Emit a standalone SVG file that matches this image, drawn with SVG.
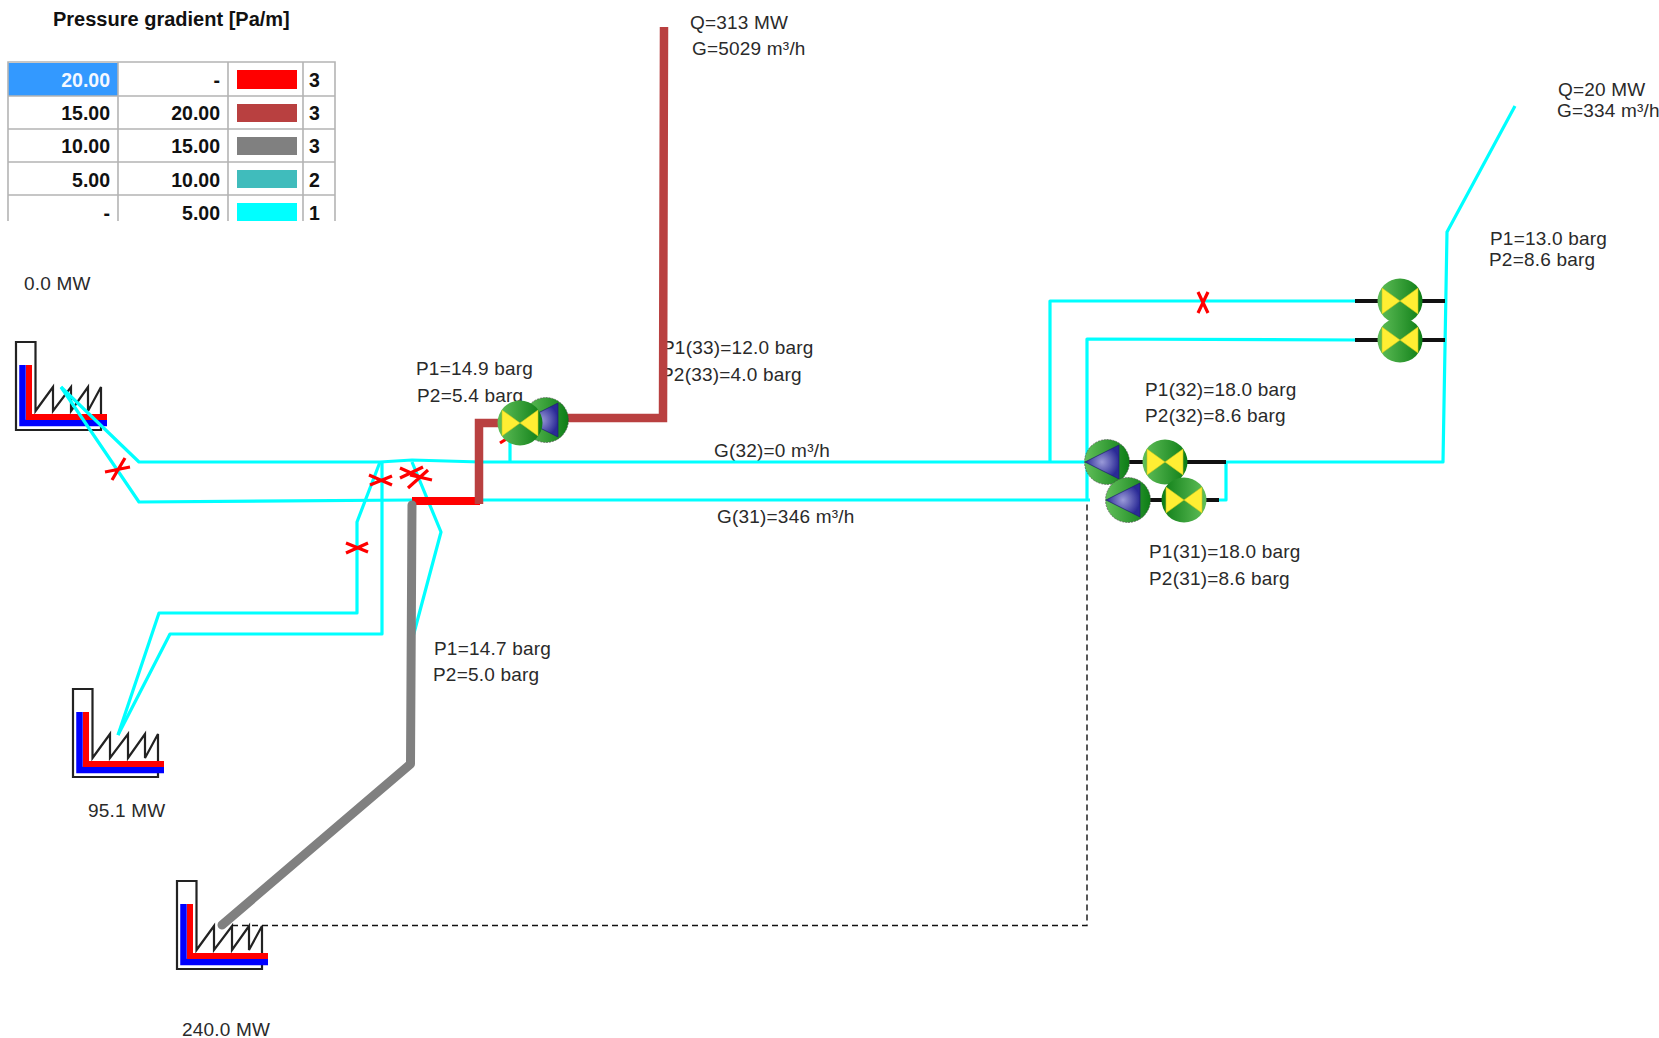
<svg xmlns="http://www.w3.org/2000/svg" width="1659" height="1038" viewBox="0 0 1659 1038">
<style>
text{font-family:"Liberation Sans",Arial,sans-serif;font-size:19px;letter-spacing:.2px;fill:#2a2a2a}
.b{font-weight:bold;fill:#111;letter-spacing:0;font-size:19.5px}
.t{font-size:20px}
.r{text-anchor:end}
.grid{stroke:#b4b4b4;stroke-width:1.6;fill:none}
.c{fill:none;stroke:#00ffff;stroke-width:3.2;stroke-linejoin:round}
.k{fill:none;stroke:#111;stroke-width:4}
.x{fill:none;stroke:#ff0000;stroke-width:3.2}
.brown{fill:none;stroke:#b94040;stroke-width:8.5}
.gray{fill:none;stroke:#808080;stroke-width:9;stroke-linecap:round;stroke-linejoin:round}
.plantline{fill:none;stroke:#222;stroke-width:2.2}
.blue{fill:none;stroke:#0000ff;stroke-width:6.5}
.red{fill:none;stroke:#ff0000;stroke-width:6}
</style>
<defs>
<linearGradient id="gv" x1="0" x2="1" y1="0" y2="0"><stop offset="0" stop-color="#62c05a"/><stop offset="1" stop-color="#0d7d16"/></linearGradient>
<radialGradient id="gb"><stop offset="0" stop-color="#9a9ad8"/><stop offset="1" stop-color="#2a2a96"/></radialGradient>
<g id="valve"><circle r="22.500" fill="url(#gv)"/><path d="M-18-13L0 0L-18 13ZM18-13L0 0L18 13Z" fill="#ffee33" stroke="#c8c820" stroke-width=".6"/></g>
<g id="pump"><circle r="22.500" fill="url(#gv)" stroke="#444" stroke-width=".6" stroke-dasharray="2 1"/><path d="M-22 0L12-17V17Z" fill="url(#gb)" stroke="#1c1c70" stroke-width=".7"/></g>
<g id="plant"><path class="plantline" d="M0 0H19.500V69L37 45V69L55 45V69L72 45V69L85 45V88H0Z"/><path class="blue" d="M6.500 23V81H91"/><path class="red" d="M13 23V75H91"/></g>
</defs>

<g id="legend">
<text class="b t" x="53" y="26">Pressure gradient [Pa/m]</text>
<rect x="8" y="63" width="110" height="33" fill="#3399ff"/>
<path class="grid" d="M8 221V62H335V221M118 62V221M228 62V221M303 62V221M8 96H335M8 129H335M8 162H335M8 195H335"/>
<rect x="237" y="70" width="60" height="19" fill="#ff0000"/>
<rect x="237" y="104" width="60" height="18" fill="#b94040"/>
<rect x="237" y="137" width="60" height="18" fill="#808080"/>
<rect x="237" y="170" width="60" height="18" fill="#40bcbc"/>
<rect x="237" y="203" width="60" height="18" fill="#00ffff"/>
<text class="b r" x="110" y="87" style="fill:#f4f8ff">20.00</text><text class="b r" x="220" y="87">-</text><text class="b" x="309" y="87">3</text>
<text class="b r" x="110" y="120">15.00</text><text class="b r" x="220" y="120">20.00</text><text class="b" x="309" y="120">3</text>
<text class="b r" x="110" y="153">10.00</text><text class="b r" x="220" y="153">15.00</text><text class="b" x="309" y="153">3</text>
<text class="b r" x="110" y="187">5.00</text><text class="b r" x="220" y="187">10.00</text><text class="b" x="309" y="187">2</text>
<text class="b r" x="110" y="220">-</text><text class="b r" x="220" y="220">5.00</text><text class="b" x="309" y="220">1</text>
</g>

<g id="labels">
<text x="690" y="29">Q=313 MW</text>
<text x="692" y="55">G=5029 m³/h</text>
<text x="1558" y="96">Q=20 MW</text>
<text x="1557" y="117">G=334 m³/h</text>
<text x="1490" y="245">P1=13.0 barg</text>
<text x="1489" y="266">P2=8.6 barg</text>
<text x="1145" y="396">P1(32)=18.0 barg</text>
<text x="1145" y="422">P2(32)=8.6 barg</text>
<text x="1149" y="558">P1(31)=18.0 barg</text>
<text x="1149" y="585">P2(31)=8.6 barg</text>
<text x="714" y="457">G(32)=0 m³/h</text>
<text x="717" y="523">G(31)=346 m³/h</text>
<text x="662" y="354">P1(33)=12.0 barg</text>
<text x="661" y="381">P2(33)=4.0 barg</text>
<text x="416" y="375">P1=14.9 barg</text>
<text x="417" y="402">P2=5.4 barg</text>
<text x="434" y="655">P1=14.7 barg</text>
<text x="433" y="681">P2=5.0 barg</text>
<text x="24" y="290">0.0 MW</text>
<text x="88" y="817">95.1 MW</text>
<text x="182" y="1036">240.0 MW</text>
</g>

<g id="plant-1"><use href="#plant" x="16" y="342"/></g>
<g id="plant-2"><use href="#plant" x="73" y="689"/></g>
<g id="plant-3"><use href="#plant" x="177" y="881"/></g>

<g id="connectors">
<path d="M232 925.500H1087V500" fill="none" stroke="#111" stroke-width="1.4" stroke-dasharray="6 4"/>
<path class="c" d="M61 387L139 462H380L412 460L480 462H1085"/>
<path class="c" d="M61 387L139 502L412 500H480L1090 500"/>
<path class="c" d="M118 735L159 613H357V522L380 462"/>
<path class="c" d="M118 735L170 634H382V462"/>
<path class="c" d="M410 648L441 532L412 462"/>
<path class="c" d="M510 462V438"/>
<path class="c" d="M1050 462V301H1358"/>
<path class="c" d="M1087 500V339L1358 340"/>
<path class="c" d="M1515 106L1447 232L1443 462H1226V500H1218"/>
<path class="k" d="M1355 301H1445M1355 340H1445"/>
<path class="k" d="M1127 462H1226M1130 500H1219"/>
<path d="M412 501H480" fill="none" stroke="#ff0000" stroke-width="8"/>
<path class="brown" d="M479 504V423H520"/>
<path class="brown" d="M664 27L663 418H560"/>
<path class="gray" d="M412 505L410.500 764L222 925"/>
<path class="x" d="M105 472L130 467M112 480L125 458"/>
<path class="x" d="M369 475L392 485M370 485L392 476"/>
<path class="x" d="M400 468L420 477M400 478L423 467"/>
<path class="x" d="M408 488L428 470M410 475L432 480"/>
<path class="x" d="M346 543L368 552M346 553L368 543"/>
<path class="x" d="M500 443L508 438M512 438L522 443"/>
<path class="x" d="M1198 292L1208 313M1208 292L1198 313"/>
</g>

<g id="pump-33"><use href="#pump" x="546" y="420"/></g>
<g id="valve-33"><use href="#valve" x="520" y="423"/></g>
<g id="pump-32"><use href="#pump" x="1107" y="462"/></g>
<g id="valve-32"><use href="#valve" x="1165" y="462"/></g>
<g id="pump-31"><use href="#pump" x="1128" y="500"/></g>
<g id="valve-31"><use href="#valve" transform="translate(1184 500) scale(-1 1)"/></g>
<g id="valve-a"><use href="#valve" x="1400" y="301"/></g>
<g id="valve-b"><use href="#valve" x="1400" y="340"/></g>
</svg>
